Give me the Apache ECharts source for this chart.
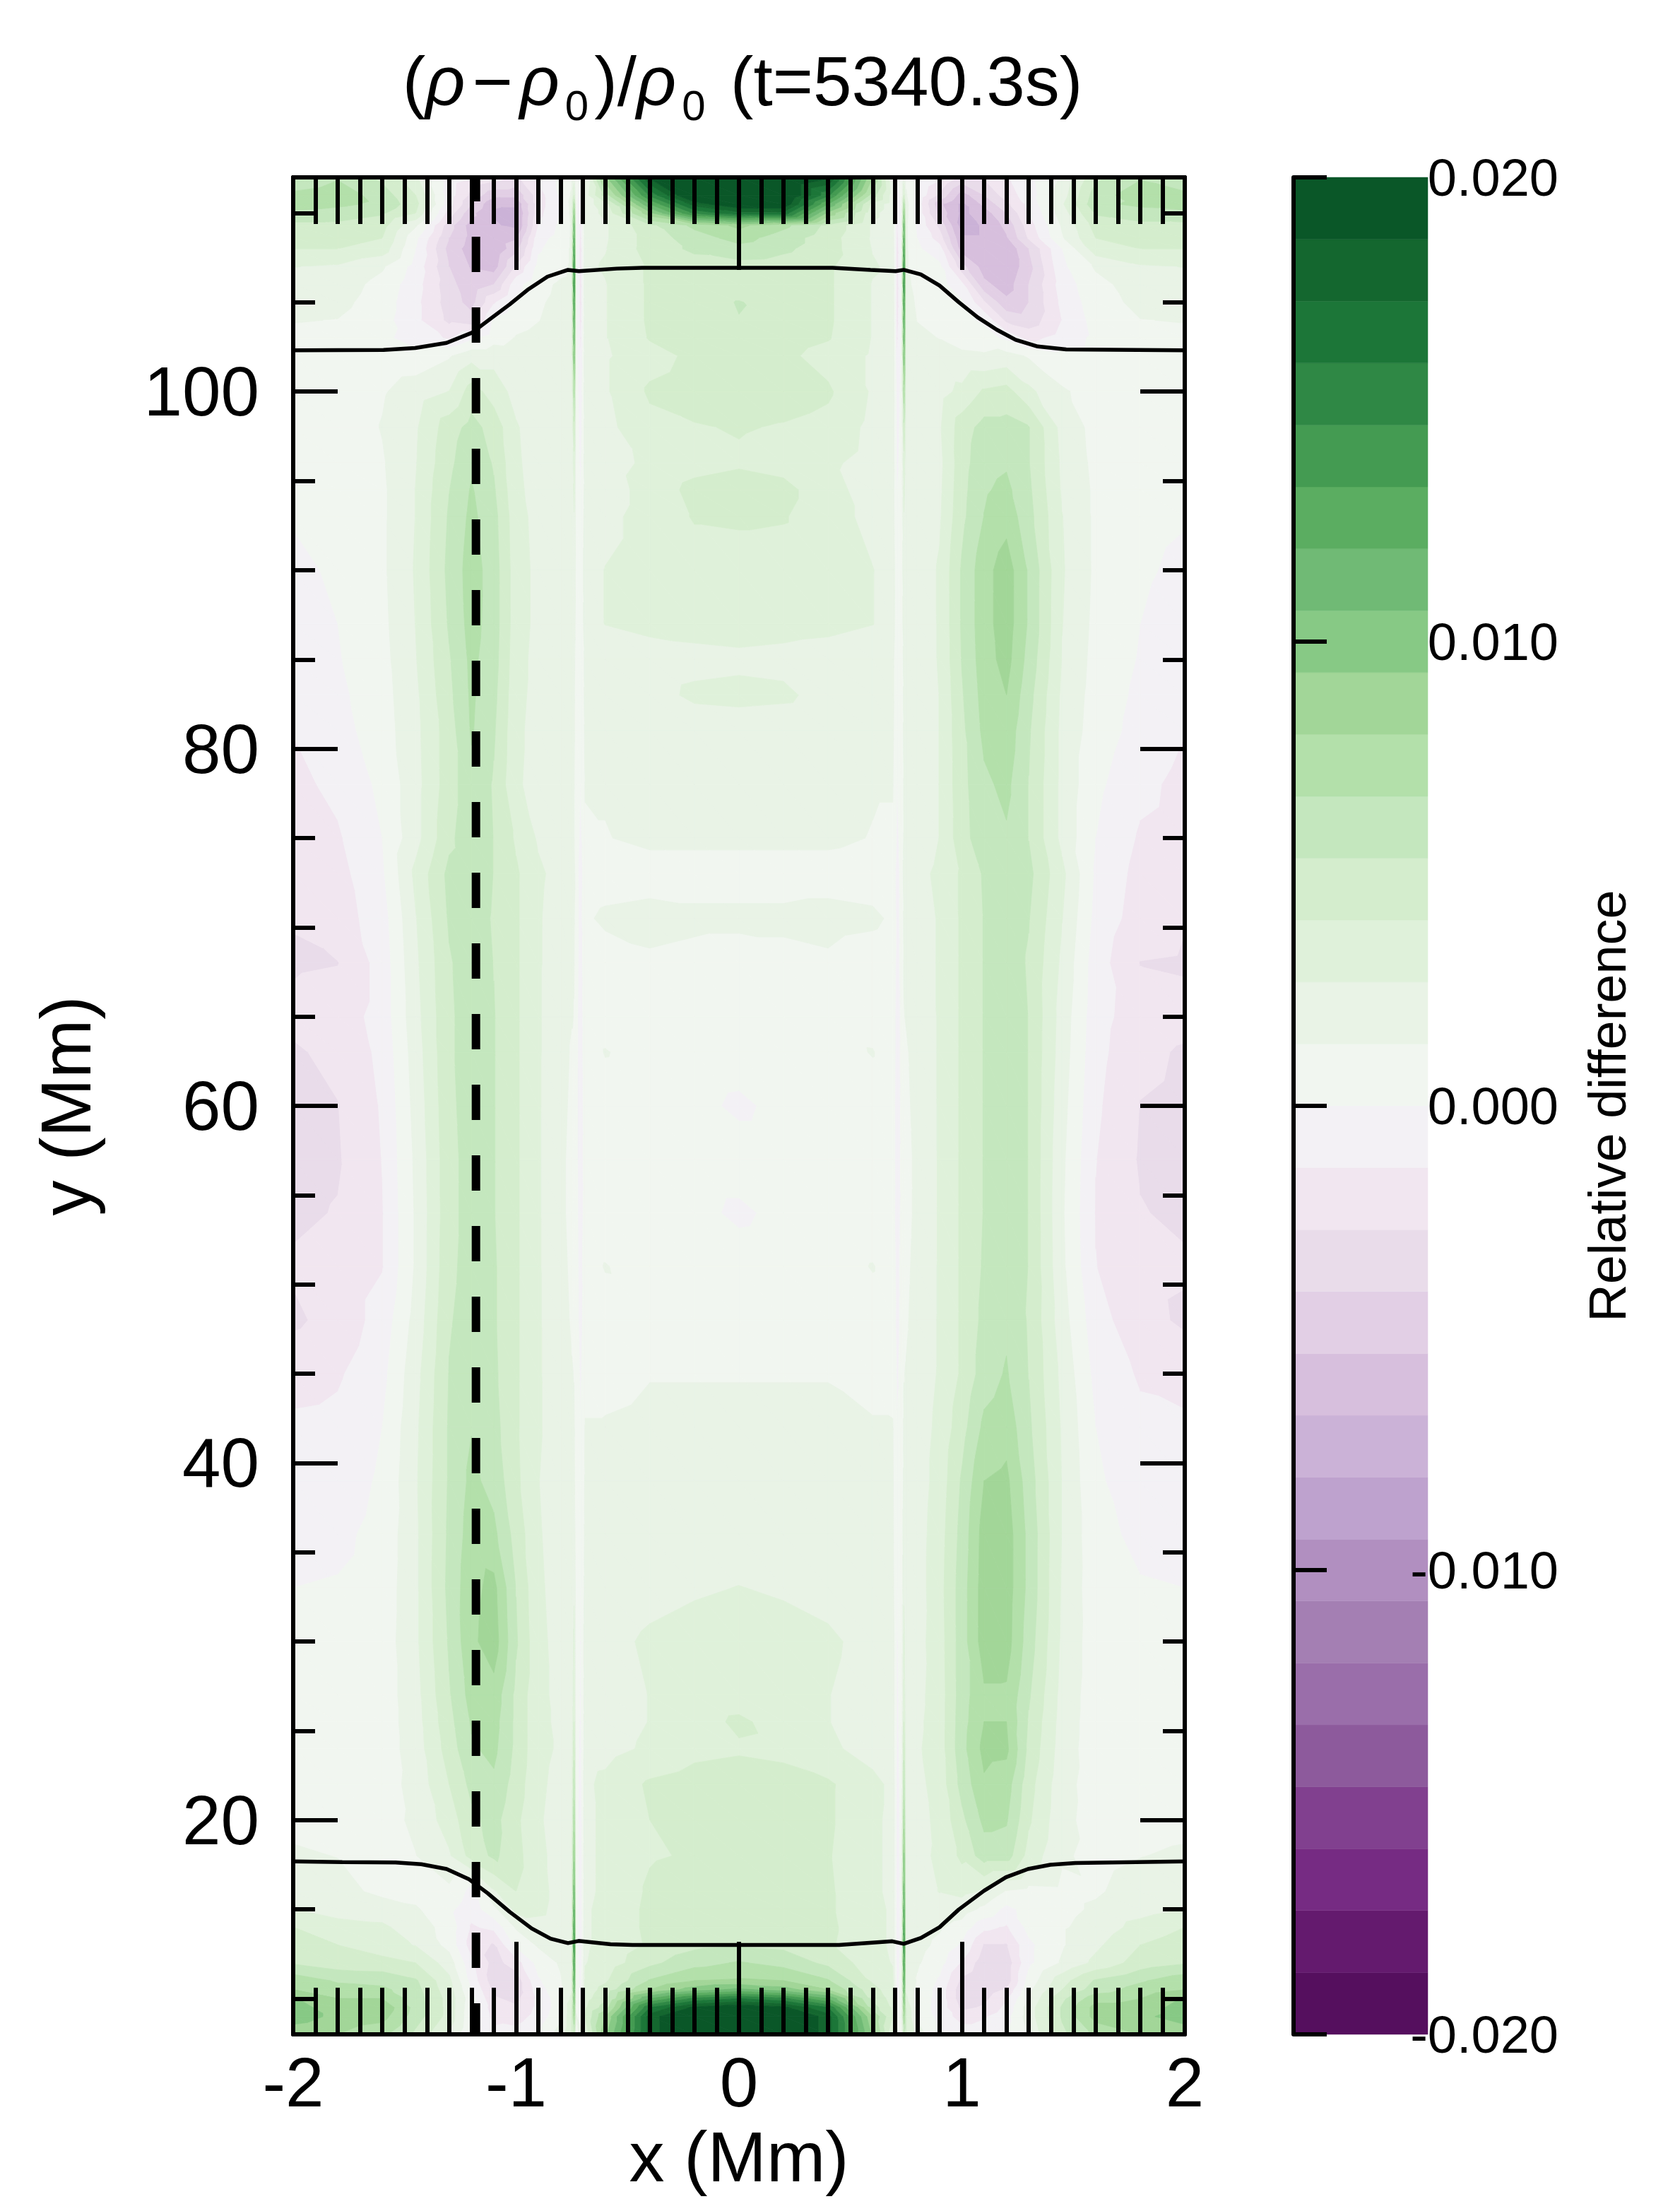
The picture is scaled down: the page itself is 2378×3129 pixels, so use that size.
<!DOCTYPE html>
<html><head><meta charset="utf-8">
<style>html,body{margin:0;padding:0;background:#fff}#c{width:2378px;height:3129px}</style>
<script src="https://cdn.jsdelivr.net/npm/echarts@6/dist/echarts.min.js"></script>
</head><body><div id="c"></div>
<script>
// node positions of the field (Mm)
const xNodes = [-2,-1.8,-1.6,-1.45,-1.3,-1.2,-1.1,-1,-.9,-.8,-.75,-.74,-.73,-.71,-.69,-.6,-.4,-.2,0,.2,.4,.6,.69,.71,.73,.74,.75,.8,.9,1,1.1,1.2,1.3,1.45,1.6,1.8,2];
const yNodes = [112,111,110.5,110,109.3,108.6,108,107,106,105,104,103,102,100,98,96,94.5,93,90,87,85,83,81,78,75,73,70.5,68,65,63,60,57,54,51,48,45,42,39,36,33,30,27,25.5,24,22,20,18,16,15,14,13,12,11,10.5,10,9.5,9,8];
// relative difference, in units of 0.001; one row per yNodes entry
const relDiffMilli = [
[5.5,6.5,5,3,-.6,-1.2,-2,-3,-1,.3,1,2,.5,.3,1.5,9,19,21,21, 21,19,8,1.5,.5,.3,2,1,.3,-1,-3,-2.5,-1.5,-.5,1.5,5,6.5,5.5],
[7,7.5,6,4,-.7,-3,-5,-5,-2,.2,1.5,4,.3,-.5,2,6,15,21,21, 21,15,6,2,-.5,.3,4,1.5,-.2,-3,-6,-4,-2,-.7,2,6,7.5,7],
[7.5,7,6.3,4.5,-.8,-4,-6.5,-6.5,-2,0,1.8,7,.2,-1,2,3.5,12,18,20, 20,12,3.5,2,-1,.2,7,1.8,-.5,-5,-7,-5,-3,-1,2.5,6.3,7,7.5],
[6.2,6,5.5,4,-2,-5,-6.8,-7,-1.8,.1,1.7,9,.1,-1.3,2,3,9,15,17, 17,9,3,2,-1.3,.1,9,1.7,-.5,-4.5,-7,-6,-4,-1.3,2,5.5,6,6.2],
[5,5,4.5,1.5,-3.5,-6,-6.5,-7,-1.3,.3,1.5,11,.2,-1.5,2,2.5,5,7,8.3, 7,5,2.5,2,-1.5,.2,11,1.5,-.3,-3,-7.3,-6.5,-5,-2,1.5,4.5,5,5],
[4.5,4.6,4,.3,-4,-5.8,-6.3,-5.5,-.5,.5,1.5,12,.2,-1.7,2.2,2.5,4.6,6,7.2, 6,4.6,2.5,2.2,-1.7,.2,12,1.5,0,-2,-6.5,-6.5,-5.5,-2.5,1.2,4,4.6,4.5],
[4,4,3.4,0,-4.5,-6,-6.5,-4.5,-.2,.8,1.5,13,.3,-2,2.3,2.6,4.6,5.6,6.2, 5.6,4.6,2.6,2.3,-2,.3,13,1.5,.2,-.8,-6,-6.5,-6.5,-4,0,3.4,4,4],
[2.7,2.5,1.5,-.5,-4,-5.5,-6,-2.5,.4,1,1.5,14,.4,-2,2.4,2.8,4.2,4.7,4.8, 4.7,4.2,2.8,2.4,-2,.4,14,1.5,.5,.3,-3.5,-6,-6.5,-4.5,-.3,1.5,2.5,2.7],
[2.2,2,.9,-.8,-3.5,-5,-4,-.5,1,1.5,1.6,14,.4,-2,2.4,2.6,4.2,4.6,4.7, 4.6,4.2,2.6,2.4,-2,.4,14,1.6,1,.5,-1,-5,-6,-4,-.7,.9,2,2.2],
[1.8,1.7,.7,-1,-3.3,-4.5,-1.5,.3,1.2,1.6,1.7,13,.4,-2,2.4,2.6,4.2,4.8,5.4, 4.8,4.2,2.6,2.4,-2,.4,13,1.7,1.2,.8,.2,-2.5,-5,-4,-1,.7,1.7,1.8],
[1.4,1.3,.5,-1,-3,-3.5,.2,1,1.3,1.7,1.7,12,.4,-1.8,2.3,2.6,4.2,5,5.3, 5,4.2,2.6,2.3,-1.8,.4,12,1.7,1.3,1,.5,-.3,-3,-3.5,-1.3,.5,1.3,1.4],
[1,.9,.3,-.6,-1.5,-.3,.8,1.4,1.6,1.9,1.9,11,.4,-1.5,2.3,2.6,4.1,4.6,4.7, 4.6,4.1,2.6,2.3,-1.5,.4,11,1.9,1.6,1.3,.8,.6,-.3,-1.8,-.8,.3,.9,1],
[.7,.6,.4,.5,1.2,2.2,2.2,2,2,2,2,10,.4,-1.2,2.2,2.5,3.5,4.3,4.7, 4.3,3.5,2.5,2.2,-1.2,.4,10,2,2,1.8,1.6,1.5,1.8,1.2,.4,.4,.6,.7],
[.4,.5,1.2,2,2.7,4.6,3.4,2.2,1.8,1.7,1.7,7,.5,-.8,2.2,2.5,4.2,4.6,4.7, 4.6,4.2,2.5,2.2,-.8,.5,7.5,1.7,1.8,2.2,3,4.2,4.5,3,1.5,.8,.5,.4],
[.3,.5,1.4,2.5,4.7,5.8,4.8,2.8,1.9,1.6,1.6,5,.6,-.5,2,2.3,3.6,3.9,4.1, 3.9,3.6,2.3,2,-.5,.6,5,1.6,1.8,2.5,4.7,5.8,5.8,5.4,2.2,.9,.5,.3],
[.3,.5,1.2,2.6,5,6.4,5.2,2.9,2,1.7,1.6,3.5,.7,-.3,2,2.2,2.9,3.5,3.8, 3.5,2.9,2.2,2,-.3,.7,3.5,1.6,1.7,2.3,4.8,6.2,6.5,5.4,2.4,1,.5,.3],
[.2,.4,1.1,2.7,5.3,6.8,5.5,3,2.1,1.8,1.6,3,.8,0,1.8,2,3.2,4.4,4.7, 4.4,3.2,2,1.8,0,.8,3,1.6,1.8,2.4,4.9,6.5,7,5.6,2.5,1.1,.4,.2],
[.1,.4,1.1,2.7,5.5,7,5.8,3.2,2.2,1.8,1.6,2.6,.8,.1,1.9,2.3,3.2,4.1,4.2, 4.1,3.2,2.3,1.9,.1,.8,2.6,1.6,1.8,2.5,5,6.7,7.5,5.8,2.7,1.1,.4,.1],
[-.3,.2,1.1,2.8,5.7,7.3,6,3.3,2.3,1.9,1.7,2,.9,.2,2.2,2.7,3.2,3.4,3.4, 3.4,3.2,2.7,2.2,.2,.9,2,1.7,1.9,2.8,5.5,7.5,8.7,6.5,2.8,1.1,.2,-.3],
[-.6,0,1,2.7,5.5,7.2,6,3.3,2.3,1.8,1.6,1.8,.9,.2,2.1,2.7,3,3.1,3.2, 3.1,3,2.7,2.1,.2,.9,1.8,1.6,1.8,2.8,5.5,7.5,8.7,6.5,2.7,1,0,-.6],
[-.7,-.1,.9,2.6,5.2,7,5.9,3.2,2.2,1.7,1.5,1.6,.8,.1,1.7,1.8,2.1,2.3,2.4, 2.3,2.1,1.8,1.7,.1,.8,1.6,1.5,1.7,2.8,5.4,7.4,8.5,6.2,2.6,.9,-.1,-.7],
[-.9,-.3,.8,2.4,5,6.9,5.7,3.1,2.2,1.7,1.5,1.5,.8,.1,1.7,1.8,2.2,2.9,3, 2.9,2.2,1.8,1.7,.1,.8,1.5,1.5,1.7,2.7,5.2,7.2,8,5.8,2.4,.8,-.3,-.9],
[-1.3,-.5,.7,2.3,4.7,6.8,5.5,3,2.1,1.7,1.5,1.5,.8,.1,1.6,1.6,1.8,1.9,2, 1.9,1.8,1.6,1.6,.1,.8,1.5,1.5,1.7,2.7,5,7,7.5,5.5,2.3,.7,-.5,-1.3],
[-1.7,-1,.3,2.2,4.7,6.3,5.2,2.9,2.1,1.7,1.5,1.4,.7,0,1.4,1.4,1.6,1.6,1.7, 1.6,1.6,1.4,1.4,0,.7,1.4,1.5,1.7,2.7,4.9,6.4,7,5.3,2.3,.3,-1,-1.7],
[-1.8,-1.5,0,2.2,5,6.3,5.3,3.8,2.5,1.7,1.5,1.4,.6,-.3,1.2,1.3,1.5,1.5,1.5, 1.5,1.5,1.3,1.2,-.3,.6,1.4,1.5,1.7,2.7,4.8,6.2,6.5,5.3,2.3,0,-1.5,-1.8],
[-2,-1.8,-.2,3,5.7,6.2,5.3,4.2,2.9,2.2,1.8,1.8,.5,-.6,.8,.9,1,1,1, 1,1,.9,.8,-.6,.5,1.8,1.8,2.2,3,4.2,5.5,6.2,5.7,3,-.2,-1.8,-2],
[-2.6,-2,-.6,2.6,5.5,6,5.2,4.2,2.8,2,1.6,1.5,.5,-.5,1.2,1.5,1.6,1.5,1.5, 1.5,1.6,1.5,1.2,-.5,.5,1.5,1.6,2,2.8,4.2,5.4,6,5.4,2.7,-.4,-2,-2.6],
[-2.8,-2.7,-.8,2.4,5.2,6,5.3,4.2,2.8,2,1.5,1.4,.4,-.5,.8,.9,1.2,1.1,1, 1.1,1.2,.9,.8,-.5,.4,1.4,1.5,2,2.8,4.2,5.4,6,5.2,2.4,-.7,-2.7,-2.8],
[-2.4,-2.1,-.8,2.2,5.1,6,5.4,4.2,2.8,1.8,1.4,1.3,.3,-.6,.7,.8,.9,.8,.7, .8,.9,.8,.7,-.6,.3,1.3,1.4,1.8,2.8,4.2,5.4,6,5.3,2.1,-.8,-2.1,-2.3],
[-2.8,-2.4,-1,2,5.1,6,5.4,4.2,2.8,1.8,1.2,1.2,.3,-.6,.7,1.4,.8,.6,.5, .6,.8,1.4,.7,-.6,.3,1.2,1.2,1.8,2.8,4.2,5.4,6,5.3,2,-.9,-2.4,-2.8],
[-2.9,-2.7,-1.2,1.8,5,6,5.4,4.2,2.8,1.7,1.1,1.1,.3,-.7,.6,.7,.6,.3,-.2, .3,.6,.7,.6,-.7,.3,1.1,1.1,1.7,2.8,4.2,5.4,6,5.3,1.8,-1.1,-2.7,-2.9],
[-3,-2.8,-1.3,1.6,4.9,5.9,5.4,4.2,2.8,1.6,1,1,.3,-.7,.6,.8,.5,.5,.5, .5,.5,.8,.6,-.7,.3,1,1,1.6,2.8,4.2,5.4,6,5.3,1.6,-1.3,-2.8,-3],
[-2.9,-2.6,-1.4,1.5,4.9,5.9,5.4,4.2,2.8,1.6,1,1,.3,-.6,.5,.5,.4,.3,-.2, .3,.4,.5,.5,-.6,.3,1,1,1.6,2.8,4.2,5.4,6,5.3,1.5,-1.4,-2.6,-2.9],
[-2.5,-2.2,-1.4,1.5,5,5.9,5.5,4.2,2.8,1.7,1.1,1.1,.4,-.5,.8,1.4,.7,.6,.5, .6,.7,1.4,.8,-.5,.4,1.1,1.1,1.7,2.8,4.2,5.5,6.1,5.3,1.6,-1.3,-2.3,-2.5],
[-2.9,-2.2,-.8,1.8,5.2,6,5.5,4.2,2.8,1.8,1.2,1.1,.4,-.4,.7,.8,.9,.9,.9, .9,.9,.8,.7,-.4,.4,1.1,1.2,1.8,2.8,4.2,5.7,6.4,5.2,1.9,-.8,-2.2,-2.9],
[-1.8,-1.5,-.4,2.2,5.4,6.2,5.6,4.2,2.8,1.9,1.4,1.3,.5,-.2,1,1.1,1.3,1.3,1.3, 1.3,1.3,1.1,1,-.2,.5,1.3,1.4,1.9,2.8,4.2,6,6.8,5.3,2.3,-.4,-1.5,-1.8],
[-1.1,-1,0,2.4,5.5,6.6,5.8,4.2,2.8,2,1.5,1.5,.5,.1,1.4,1.4,1.5,1.5,1.5, 1.5,1.5,1.4,1.4,.1,.5,1.5,1.5,2,3,4.8,7,7.5,5.6,2.5,0,-1,-1.1],
[-.8,-.7,.2,2.5,5.5,7,6.2,4.3,2.7,2,1.6,1.6,.6,.2,1.5,1.5,1.6,1.7,1.7, 1.7,1.6,1.5,1.5,.2,.6,1.6,1.6,2,3.2,5.5,8,8.3,6,2.6,.2,-.7,-.8],
[-.4,-.3,.4,2.4,5.6,7.3,7,4.8,2.8,2,1.6,2,.6,.1,1.6,1.6,1.8,1.9,2, 1.9,1.8,1.6,1.6,.1,.6,2,1.6,2.1,3.4,5.8,8.6,8.7,6.3,2.6,.4,-.3,-.4],
[0,.1,.5,2.4,5.7,7.6,8.4,5.3,2.9,2.1,1.6,2.5,.6,0,1.7,1.7,2.2,2.5,2.7, 2.5,2.2,1.7,1.7,0,.6,2.5,1.6,2.1,3.5,6,8.7,8.7,6.3,2.5,.5,.1,0],
[.2,.3,.6,2.4,5.5,7.7,8.7,5.5,3,2.2,1.7,3,.7,-.1,2,2.2,2.9,3.2,3.4, 3.2,2.9,2.2,2,-.1,.7,3,1.7,2.2,3.4,6,8.7,8.6,6,2.4,.6,.3,.2],
[.3,.4,.6,2.2,5.2,7.2,7.5,5,3,2.3,1.7,3.5,.6,-.2,2,2.1,2.7,3,3.2, 3,2.7,2.1,2,-.2,.6,3.5,1.7,2.3,3.3,6,7.8,7.8,5.5,2.2,.6,.4,.3],
[.3,.4,.6,2.1,4.9,6.8,7.2,5,3,2.4,1.7,4,.5,-.2,2,2.1,2.7,3.3,4.3, 3.3,2.7,2.1,2,-.2,.5,4,1.7,2.4,3.3,6.1,8,8,5.2,2.1,.6,.4,.3],
[.3,.4,.6,2,4.6,6.5,7,5,3,2.5,1.8,5,.5,-.3,2.1,2.2,2.9,3.6,3.8, 3.6,2.9,2.2,2.1,-.3,.5,5,1.8,2.5,3.3,6.2,8.4,8.3,5,2,.6,.4,.3],
[.5,.5,.7,1.8,4,5.7,6.4,4.7,2.9,2.3,1.8,6,.5,-.5,2.4,3,4.2,4.6,4.8, 4.6,4.2,3,2.4,-.5,.5,6,1.8,2.3,3.2,5.8,7.8,7.3,4.5,1.8,.7,.5,.5],
[1,.9,.8,1.6,3.3,5,5.8,4.3,2.8,2.2,1.8,7.5,.5,-.6,2.4,2.9,4,4.6,4.9, 4.6,4.2,2.9,2.4,-.6,.5,7.5,1.8,2.2,3,5,7,6.8,4.2,1.7,.8,.9,1],
[1.5,1.3,.9,1.3,2.5,4.5,5.6,4.5,2.9,2.3,2,9,.6,-.7,2.4,2.9,3.9,4.1,4.9, 4.4,4.1,2.9,2.4,-.7,.6,9.5,2,2.3,2.9,4.3,6,6,3.5,1.5,1,1.3,1.5],
[2.2,1.8,1,.8,1,-.4,2.5,4,3,2.3,2,11,.5,-.8,2.4,2.9,4.2,4.6,4.9, 4.6,4.2,2.9,2.4,-.8,.5,11,2,2.3,2.7,3,2.5,1.2,.9,1,1.2,1.8,2.2],
[2.7,2.1,2,1.5,.3,-.8,1,3,2.9,2.3,2,12,.5,-.8,2.5,3,4.3,4.6,4.9, 4.6,4.2,3,2.5,-.8,.5,12,2,2.3,2.3,2,1,-.4,.5,1,1.5,2.1,2.7],
[4,3.2,2.9,2,.8,-1.5,-1,1.5,2.3,2.2,2,13,.5,-.8,2.5,3,4.3,4.7,4.9, 4.7,4.3,3,2.5,-.8,.5,13,2,2,1.5,.8,-1,-1.5,.4,1.2,1.8,3.2,4],
[4.7,4,3.2,2.6,.9,-2,-2.8,.3,1.5,2,2,14,.5,-.8,2.5,3,4.2,5,5.2, 5,4.2,3,2.5,-.8,.5,14,2,1.8,1,-.2,-2.8,-2.8,-.3,1.2,2.4,4,4.7],
[5.2,4.6,4.5,4,2,-1,-3.2,-2,.5,1.5,2,13,.6,-.6,2.6,3.2,5,6.2,6.8, 6.2,5,3.2,2.6,-.6,.6,13,2,1.5,.5,-1.5,-3.5,-3.5,-.3,1.5,3,4.6,5.2],
[7.5,6.5,6.2,5.5,3,-.5,-3.5,-3.5,-.2,1.2,2.5,12,.6,-.4,3,3.8,6.8,8,8.2, 8,6.8,3.8,3,-.4,.6,12,2.5,1.2,-.2,-3,-4,-3.5,.5,3.5,5.5,6.5,7.5],
[8,7.2,7,5.8,3.2,0,-3,-3.5,-.6,1,2.5,11,.7,-.3,3.2,4.5,8,10,11, 10,8,4.5,3.2,-.3,.7,11,2.5,1,-.5,-3.5,-3.5,-2.5,1,4,6,7.2,8],
[9.5,8,8,6,3.5,.5,-2.5,-3,-1,.8,3,10,.8,-.2,3.5,5,12,15,16, 15,12,5,3.5,-.2,.8,10,3,.8,-.5,-3.5,-3,-1.5,1.5,5,7.5,8,9.5],
[10,8.5,9,6.2,3.5,.3,-2,-2.5,-1,.7,4,9,1,0,3.8,6,16,19,20, 19,16,6,3.8,0,1,9,4,.7,-.5,-3,-2.5,-1,2,5.5,8.5,8.5,10],
[10,9,8.5,6,3.5,.2,-1.7,-2,-.8,1,4,8,1.5,.2,4,8,18,21,21, 21,18,8,4,.2,1.5,8,4,1,-.4,-2,-1.5,-.5,2,5.5,8.5,9,10],
[8.5,8,7,5,2.5,0,-1,-.8,.2,2,4,5,.5,2,3,9,18,21,21, 21,18,9,3,2,.5,5,4,2,.2,-.5,-.5,0,1.5,5,7,8,8.5]
];
// black boundary curves
const topCurveX = [-2,-1.595,-1.453,-1.312,-1.198,-1.114,-1.029,-.944,-.859,-.767,-.718,-.548,-.435,0,.42,.59,.703,.739,.816,.9,.986,1.071,1.156,1.241,1.34,1.468,2];
const topCurveY = [102.31,102.33,102.44,102.73,103.3,104.09,104.88,105.74,106.44,106.82,106.75,106.89,106.93,106.93,106.93,106.82,106.75,106.82,106.56,105.94,105.01,104.16,103.47,102.9,102.53,102.36,102.31];
const botCurveX = [-2,-1.78,-1.541,-1.425,-1.312,-1.213,-1.128,-1.029,-.93,-.845,-.767,-.72,-.576,-.477,.171,.449,.688,.739,.816,.9,.986,1.099,1.198,1.297,1.397,1.51,2];
const botCurveY = [17.69,17.65,17.63,17.53,17.26,16.7,15.91,14.86,13.93,13.36,13.11,13.23,13.05,13.01,13.01,13.01,13.21,13.07,13.4,14,14.99,16.04,16.8,17.26,17.5,17.6,17.69];
const dashX = [-1.18,-1.18];
const dashY = [8,112];
// axis ticks
const yLabelTicks = [20,40,60,80,100];
const yMinorTicks = [10,15,25,30,35,45,50,55,65,70,75,85,90,95,105,110];
// colour levels of the bar, lowest first, 30 bands over [-20,20] x 0.001
const levelColors = ['#550f5e','#641a6e','#762b83','#81408f','#8d5a9c','#9a6eaa','#a47fb3','#b18fc0','#bea2ce','#cbb2d7','#d7bfdd','#e2cfe5','#e9dcea','#f1e6f0','#f3f1f5','#f1f6f0','#e9f3e6','#dff1da','#d4edcd','#c4e7be','#b3e0aa','#a2d698','#87c985','#70ba75','#5bad61','#449b52','#2f8845','#1c7638','#14672f','#0a5728'];
const levelStep = 40/30;

const FONT = '"Liberation Sans", Arial, sans-serif';
function bandOf(v){ return Math.max(0,Math.min(29,Math.floor((v+20)/levelStep))); }
function clip(poly,limit,keepAbove){
  const out=[];
  for(let i=0;i<poly.length;i++){
    const a=poly[i],b=poly[(i+1)%poly.length];
    const ia=keepAbove? a[2]>=limit : a[2]<=limit, ib=keepAbove? b[2]>=limit : b[2]<=limit;
    if(ia) out.push(a);
    if(ia!==ib){const t=(limit-a[2])/(b[2]-a[2]);out.push([a[0]+t*(b[0]-a[0]),a[1]+t*(b[1]-a[1]),limit]);}
  }
  return out;
}
// filled-contour rendering of one grid quad
function renderQuad(params,api){
  const x0=api.value(0),x1=api.value(1),y0=api.value(2),y1=api.value(3);
  const a=[x0,y0,api.value(4)],b=[x1,y0,api.value(5)],c=[x1,y1,api.value(6)],d=[x0,y1,api.value(7)];
  const children=[];
  [[a,b,c],[a,c,d]].forEach(tri=>{
    const vs=tri.map(p=>p[2]);
    const lo=bandOf(Math.min(...vs)),hi=bandOf(Math.max(...vs));
    for(let k=lo;k<=hi;k++){
      let poly=tri;
      if(k>0) poly=clip(poly,-20+k*levelStep,true);
      if(k<29&&poly.length) poly=clip(poly,-20+(k+1)*levelStep,false);
      if(poly.length<3) continue;
      children.push({type:'polygon',silent:true,shape:{points:poly.map(p=>api.coord([p[0],p[1]]))},
        style:{fill:levelColors[k],stroke:levelColors[k],lineWidth:0.8}});
    }
  });
  return {type:'group',children};
}
const quads=[];
for(let j=0;j<yNodes.length-1;j++)for(let i=0;i<xNodes.length-1;i++){
  quads.push([xNodes[i],xNodes[i+1],yNodes[j],yNodes[j+1],
    relDiffMilli[j][i],relDiffMilli[j][i+1],relDiffMilli[j+1][i+1],relDiffMilli[j+1][i]]);
}
const barData=levelColors.map((c,k)=>[0,1,(-20+k*levelStep)/1000,(-20+(k+1)*levelStep)/1000,k]);

const zip=(xs,ys)=>xs.map((x,i)=>[x,ys[i]]);
const black={color:'#000',width:6};
const frameLine={show:true,onZero:false,lineStyle:black};
const yBase=(pos,extra)=>Object.assign({type:'value',gridIndex:0,position:pos,min:8,max:112,z:10,
  axisLine:frameLine,splitLine:{show:false},minorTick:{show:false},axisPointer:{show:false}},extra);
const xBase=(pos,extra)=>Object.assign({type:'value',gridIndex:0,position:pos,min:-2,max:2,interval:1,z:10,
  axisLine:frameLine,splitLine:{show:false},
  axisTick:{show:true,inside:true,length:131,lineStyle:black},
  minorTick:{show:true,splitNumber:10,length:66,lineStyle:black},minorSplitLine:{show:false}},extra);

const chart=echarts.init(document.getElementById('c'),null,{renderer:'canvas',width:2378,height:3129});
chart.setOption({
  animation:false,backgroundColor:'#fff',
  title:{left:1046,top:52,textAlign:'center',
    text:'{m|(}{i|ρ}{o|−}{i|ρ}{s|0}{m|)/}{i|ρ}{s|0}{m| (t=5340.3s)}',
    textStyle:{fontWeight:'normal',rich:{
      m:{fontFamily:FONT,fontSize:98,fontWeight:'normal',color:'#000',lineHeight:130},
      o:{fontFamily:FONT,fontSize:98,fontWeight:'normal',color:'#000',lineHeight:130,padding:[0,10,0,10]},
      i:{fontFamily:FONT,fontSize:98,fontWeight:'normal',fontStyle:'italic',color:'#000',lineHeight:130},
      s:{fontFamily:FONT,fontSize:60,fontWeight:'normal',color:'#000',verticalAlign:'bottom',lineHeight:60,padding:[0,8,4,8]}
    }}},
  grid:[{left:415,top:251,width:1262,height:2628,containLabel:false},
        {left:1831,top:251,width:190,height:2628,containLabel:false}],
  xAxis:[
    xBase('bottom',{name:'x (Mm)',nameLocation:'middle',nameGap:130,
      nameTextStyle:{fontFamily:FONT,fontSize:100,color:'#000'},
      axisLabel:{show:true,margin:26,fontFamily:FONT,fontSize:98,color:'#000'}}),
    xBase('top',{axisLabel:{show:false}}),
    {type:'value',gridIndex:1,min:0,max:1,show:false}
  ],
  yAxis:[
    yBase('left',{name:'y (Mm)',nameLocation:'middle',nameRotate:90,nameGap:265,
      nameTextStyle:{fontFamily:FONT,fontSize:100,color:'#000'},
      axisTick:{show:true,inside:true,length:63,lineStyle:black,customValues:yLabelTicks},
      axisLabel:{show:true,customValues:yLabelTicks,margin:48,verticalAlign:'top',padding:[-42,0,0,0],fontFamily:FONT,fontSize:98,color:'#000'}}),
    yBase('left',{axisTick:{show:true,inside:true,length:31,lineStyle:black,customValues:yMinorTicks},axisLabel:{show:false}}),
    yBase('right',{axisTick:{show:true,inside:true,length:63,lineStyle:black,customValues:yLabelTicks},axisLabel:{show:false}}),
    yBase('right',{axisTick:{show:true,inside:true,length:31,lineStyle:black,customValues:yMinorTicks},axisLabel:{show:false}}),
    {type:'value',gridIndex:1,position:'left',min:-0.02,max:0.02,interval:0.01,z:10,
      axisLine:frameLine,splitLine:{show:false},
      axisTick:{show:true,inside:true,length:47,lineStyle:{color:'#000',width:6}},axisLabel:{show:false}},
    {type:'value',gridIndex:1,position:'right',min:-0.02,max:0.02,interval:0.01,z:10,
      axisLine:{show:false,onZero:false},splitLine:{show:false},axisTick:{show:false},
      name:'Relative difference',nameLocation:'middle',nameRotate:90,nameGap:223,
      nameTextStyle:{fontFamily:FONT,fontSize:74,color:'#000'},
      axisLabel:{show:true,align:'right',margin:185,verticalAlign:'top',padding:[-31,0,0,0],fontFamily:FONT,fontSize:74,color:'#000',
        formatter:v=>Number(v).toFixed(3)}}
  ],
  series:[
    {type:'custom',coordinateSystem:'cartesian2d',xAxisIndex:0,yAxisIndex:0,z:2,silent:true,
      progressive:0,clip:true,encode:{x:[0,1],y:[2,3]},data:quads,renderItem:renderQuad},
    {type:'line',xAxisIndex:0,yAxisIndex:0,z:5,symbol:'none',silent:true,data:zip(topCurveX,topCurveY),lineStyle:{color:'#000',width:5.5}},
    {type:'line',xAxisIndex:0,yAxisIndex:0,z:5,symbol:'none',silent:true,data:zip(botCurveX,botCurveY),lineStyle:{color:'#000',width:5.5}},
    {type:'line',xAxisIndex:0,yAxisIndex:0,z:6,symbol:'none',silent:true,data:zip(dashX,dashY),
      lineStyle:{color:'#000',width:12,type:[50,50],dashOffset:6,cap:'butt'}},
    {type:'custom',coordinateSystem:'cartesian2d',xAxisIndex:2,yAxisIndex:4,z:2,silent:true,progressive:0,
      encode:{x:[0,1],y:[2,3]},data:barData,
      renderItem:(p,api)=>{
        const tl=api.coord([api.value(0),api.value(3)]),br=api.coord([api.value(1),api.value(2)]);
        const c=levelColors[api.value(4)];
        return {type:'rect',silent:true,shape:{x:tl[0],y:tl[1],width:br[0]-tl[0],height:br[1]-tl[1]},style:{fill:c,stroke:c,lineWidth:0.5}};
      }}
  ]
});
</script></body></html>
